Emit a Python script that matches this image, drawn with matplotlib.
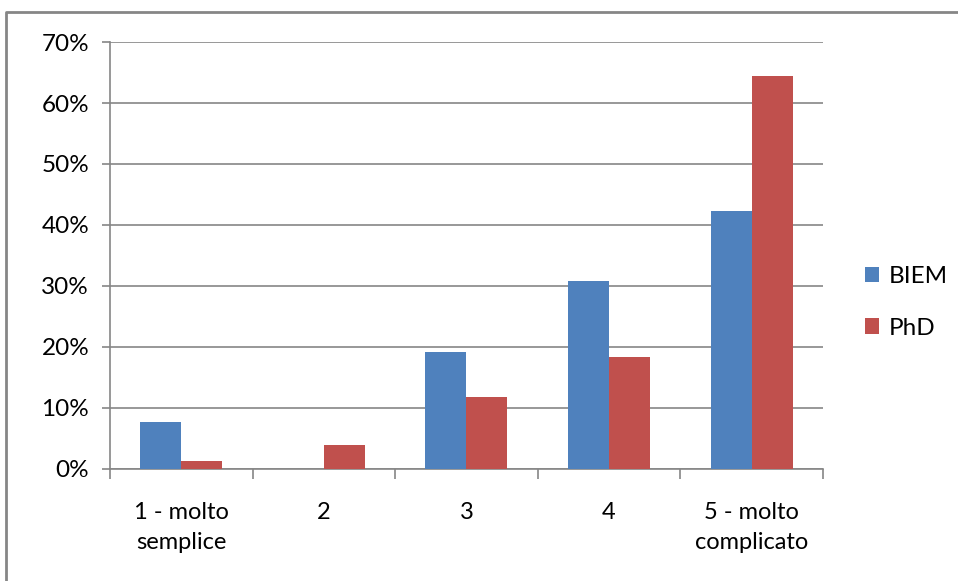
import matplotlib.pyplot as plt
import numpy as np
from matplotlib.lines import Line2D
from matplotlib.ticker import FuncFormatter

categorie = ['1 - molto\nsemplice', '2', '3', '4', '5 - molto\ncomplicato']
biem = [7.7, 0.0, 19.2, 30.8, 42.3]
phd = [1.3, 3.9, 11.8, 18.4, 64.5]
serie = ['BIEM', 'PhD']
colori = ['#4F81BD', '#C0504D']

plt.rcParams['font.family'] = ['Lato', 'DejaVu Sans']

fig = plt.figure(figsize=(9.58, 5.81), dpi=100)
ax = fig.add_axes([0.1148, 0.1928, 0.7442, 0.7349])

# cornice del grafico (lato sinistro e superiore)
x0, y0 = 6 / 958, 1 - 12 / 581
fig.add_artist(Line2D([x0, x0, 1.05], [-0.05, y0, y0], transform=fig.transFigure,
                      color='#868686', linewidth=2))

x = np.arange(len(categorie))
w = 0.2875
ax.bar(x - w / 2, biem, w, color=colori[0], label=serie[0], zorder=3)
ax.bar(x + w / 2, phd, w, color=colori[1], label=serie[1], zorder=3)

ax.set_xlim(-0.5, len(categorie) - 0.5)
ax.set_ylim(0, 70)
ax.set_yticks(np.arange(0, 71, 10))
ax.yaxis.set_major_formatter(FuncFormatter(lambda v, p: f'{v:.0f}%'))
ax.grid(axis='y', color='#868686', linewidth=1.2, zorder=0)

ax.set_xticks(x)
ax.set_xticklabels(categorie, fontsize=17, linespacing=1.5)
ax.set_xticks(np.arange(-0.5, len(categorie)), minor=True)
ax.tick_params(axis='x', which='major', length=0, pad=24)
ax.tick_params(axis='x', which='minor', length=7, color='#868686', width=1.2)
ax.tick_params(axis='y', length=6, color='#868686', width=1.2, labelsize=17.5, pad=9)

for lato in ['top', 'right']:
    ax.spines[lato].set_visible(False)
for lato in ['left', 'bottom']:
    ax.spines[lato].set_color('#868686')
    ax.spines[lato].set_linewidth(1.2)

ax.legend(loc='center left', bbox_to_anchor=(1.028, 0.39), frameon=False,
          fontsize=17.5, handlelength=0.6, handleheight=0.6, handletextpad=0.4,
          labelspacing=1.25)

fig.savefig('out.png', dpi=100)
